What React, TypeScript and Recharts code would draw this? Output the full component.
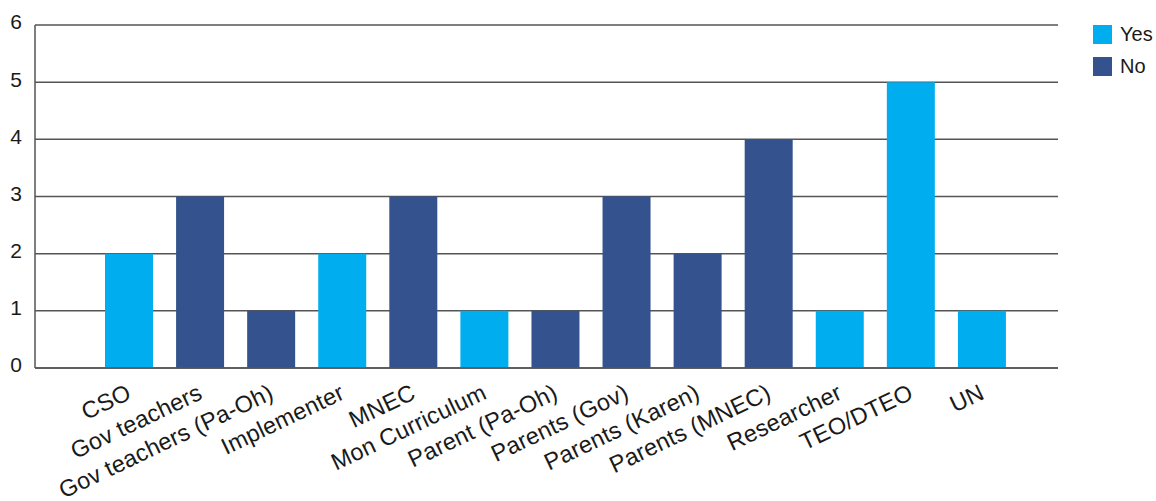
import React from "react";
import { BarChart, Bar, XAxis, YAxis, CartesianGrid } from "recharts";

// Respondent groups along the x axis
const categories = [
  "CSO",
  "Gov teachers",
  "Gov teachers (Pa-Oh)",
  "Implementer",
  "MNEC",
  "Mon Curriculum",
  "Parent (Pa-Oh)",
  "Parents (Gov)",
  "Parents (Karen)",
  "Parents (MNEC)",
  "Researcher",
  "TEO/DTEO",
  "UN",
];

// Answer counts per group
const yesValues = [2, 0, 0, 2, 0, 1, 0, 0, 0, 0, 1, 5, 1];
const noValues = [0, 3, 1, 0, 3, 0, 1, 3, 2, 4, 0, 0, 0];

const yTicks = [0, 1, 2, 3, 4, 5, 6];

const YES_COLOR = "#00AEEF";
const NO_COLOR = "#34538E";
const TEXT_COLOR = "#1a1a1a";
const LINE_COLOR = "#555555";
const FONT = "'Liberation Sans', Arial, Helvetica, sans-serif";

const data = categories.map((name, i) => ({
  name,
  Yes: yesValues[i] || null,
  No: noValues[i] || null,
}));

const series = [
  { key: "Yes", color: YES_COLOR },
  { key: "No", color: NO_COLOR },
];

function XTick(props: any) {
  const { x, y, payload } = props;
  return (
    <g transform={`translate(${x - 3},${y})`}>
      <text
        x={0}
        y={0}
        dy="0.71em"
        textAnchor="end"
        transform="rotate(-25.5)"
        fill={TEXT_COLOR}
        fontSize={23.5}
        letterSpacing={0.2}
        fontFamily={FONT}
      >
        {payload.value}
      </text>
    </g>
  );
}

function LegendBox() {
  return (
    <div
      style={{
        position: "absolute",
        left: 1093,
        top: 25,
        fontFamily: FONT,
        fontSize: 20,
        color: TEXT_COLOR,
      }}
    >
      {series.map((s) => (
        <div
          key={s.key}
          style={{ display: "flex", alignItems: "center", height: 19, marginBottom: 13 }}
        >
          <span
            style={{
              display: "inline-block",
              width: 19,
              height: 19,
              background: s.color,
              marginRight: 8,
            }}
          />
          <span style={{ lineHeight: "19px" }}>{s.key}</span>
        </div>
      ))}
    </div>
  );
}

export default function App() {
  return (
    <div
      style={{
        position: "absolute",
        left: 0,
        top: 0,
        width: 1156,
        height: 501,
        background: "#ffffff",
        fontFamily: FONT,
      }}
    >
      <BarChart
        width={1156}
        height={501}
        data={data}
        margin={{ top: 25, right: 98, bottom: 0, left: 0 }}
      >
        <CartesianGrid
          vertical={false}
          stroke={LINE_COLOR}
          strokeWidth={1.5}
        />
        <XAxis
          dataKey="name"
          interval={0}
          height={133}
          padding={{ left: 58, right: 41 }}
          tickLine={false}
          tickSize={6}
          tickMargin={9}
          axisLine={{ stroke: LINE_COLOR, strokeWidth: 1.5 }}
          tick={<XTick />}
        />
        <YAxis
          width={35}
          domain={[0, 6]}
          ticks={yTicks}
          interval={0}
          tickLine={false}
          tickSize={6}
          tickMargin={7}
          axisLine={{ stroke: LINE_COLOR, strokeWidth: 1.5 }}
          tick={{ fill: TEXT_COLOR, fontSize: 21, fontFamily: FONT, dy: -3 }}
        />
        {series.map((s) => (
          <Bar
            key={s.key}
            dataKey={s.key}
            stackId="answers"
            fill={s.color}
            barSize={48}
            isAnimationActive={false}
          />
        ))}
      </BarChart>
      <LegendBox />
    </div>
  );
}
